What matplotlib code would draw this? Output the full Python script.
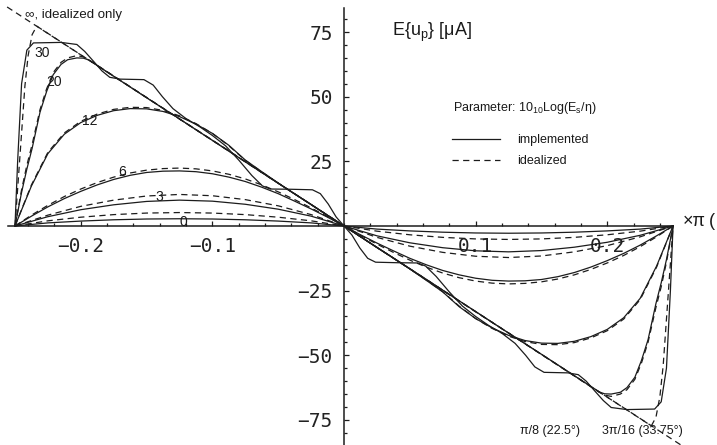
import numpy as np
import matplotlib.pyplot as plt

# Expected pulse current E{u_p} versus phase (x in units of pi).
# Only the left half (x <= 0) is listed; the curves are odd, so the
# right half is drawn as the point reflection through the origin.

x_coarse = np.array([-0.25, -0.225, -0.2, -0.175, -0.15, -0.125, -0.1, -0.075, -0.05, -0.025, 0.0])
x_fine = np.array([-0.25, -0.2375, -0.225, -0.2125, -0.2, -0.1875, -0.175, -0.1625, -0.15,
                   -0.1375, -0.125, -0.1125, -0.1, -0.0875, -0.075, -0.0625, -0.05, -0.0375,
                   -0.025, -0.0125, 0.0])

p0_impl = np.array([0, 1.2, 1.9, 2.4, 2.7, 2.8, 2.7, 2.4, 1.9, 1.2, 0])
p0_ideal = np.array([0, 2.0, 3.4, 4.4, 5.0, 5.2, 5.0, 4.4, 3.4, 2.0, 0])
p3_impl = np.array([0, 3.6, 6.3, 8.2, 9.5, 10.0, 9.6, 8.4, 6.5, 3.8, 0])
p3_ideal = np.array([0, 4.2, 7.6, 10.0, 11.6, 12.2, 11.7, 10.2, 7.8, 4.4, 0])

p6_impl = np.array([0, 3.8, 7.4, 10.6, 13.4, 15.9, 18.0, 19.6, 20.7, 21.2, 21.3,
                    21.0, 20.2, 18.9, 17.2, 15.0, 12.5, 9.6, 6.6, 3.4, 0])
p6_ideal = np.array([0, 4.2, 8.0, 11.4, 14.3, 16.8, 18.9, 20.5, 21.6, 22.2, 22.4,
                     22.1, 21.3, 20.0, 18.2, 15.9, 13.2, 10.2, 7.0, 3.6, 0])
p12_impl = np.array([0, 15.5, 28.0, 35.5, 40.0, 42.8, 44.6, 45.4, 45.3, 44.3, 42.3,
                     39.4, 35.8, 31.2, 25.5, 21.0, 16.6, 12.4, 8.3, 4.1, 0])
p12_ideal = np.array([0, 15.9, 28.5, 36.0, 40.5, 43.3, 45.1, 45.9, 45.8, 44.7, 42.6,
                      39.6, 35.8, 31.0, 25.4, 20.9, 16.6, 12.4, 8.3, 4.1, 0])

p20_x = np.array([-0.25, -0.245, -0.241, -0.237, -0.231, -0.226, -0.221, -0.215, -0.21, -0.203,
                  -0.198, -0.194, -0.175, -0.15, -0.125, -0.1, -0.075, -0.05, -0.025, 0.0])
p20_impl = np.array([0, 13, 22, 30, 44, 52, 58.5, 62.5, 64.3, 65.0,
                     64.9, 64.2, 57.9, 49.6, 41.4, 33.1, 24.8, 16.5, 8.3, 0])
p20_ideal = np.array([0, 14, 23.5, 31.5, 45, 53, 59.3, 63.3, 65.0, 65.9,
                      65.4, 64.3, 58.0, 49.7, 41.4, 33.2, 24.9, 16.6, 8.3, 0])

# 30 dB implemented: staircase around the ideal sawtooth
p30_x = np.array([-0.25, -0.248, -0.245, -0.241, -0.236, -0.215, -0.203, -0.197, -0.19, -0.184,
                  -0.178, -0.17, -0.152, -0.145, -0.138, -0.13, -0.12, -0.11, -0.1, -0.09,
                  -0.08, -0.07, -0.062, -0.056, -0.04, -0.024, -0.018, -0.012, -0.006, 0.0])
p30_impl = np.array([0, 25, 55, 68, 70.8, 71.0, 70.2, 67.5, 63.5, 60.0,
                     57.5, 56.8, 56.6, 54.5, 50.0, 45.4, 41.5, 38.5, 35.0, 31.0,
                     25.5, 19.5, 15.5, 14.3, 14.2, 14.0, 12.5, 8.5, 3.5, 0])
p30_ideal_x = np.array([-0.25, -0.2475, -0.245, -0.2425, -0.24, -0.237, -0.2335, 0.0])
p30_ideal = np.array([0, 18, 36, 54, 66, 74, 77.3, 0])

inf_x = np.array([-0.256, 0.0])
inf_ideal = np.array([84.7, 0])

impl_curves = [(x_coarse, p0_impl), (x_coarse, p3_impl), (x_fine, p6_impl),
               (x_fine, p12_impl), (p20_x, p20_impl), (p30_x, p30_impl)]
ideal_curves = [(x_coarse, p0_ideal), (x_coarse, p3_ideal), (x_fine, p6_ideal),
                (x_fine, p12_ideal), (p20_x, p20_ideal), (p30_ideal_x, p30_ideal),
                (inf_x, inf_ideal)]

ink = '#1c1c1c'
W, H = 717, 445


def odd(x, y):
    return np.concatenate([x, -x[::-1]]), np.concatenate([y, -y[::-1]])


def fx(px):
    return px / W


def fy(py):
    return 1 - py / H


fig = plt.figure(figsize=(W / 100, H / 100), dpi=100)
ax = fig.add_axes([0, 0, 1, 1])
ax.set_xlim(-0.2614, 0.2834)
ax.set_ylim(-84.7, 87.4)

for x, y in impl_curves:
    xx, yy = odd(x, y)
    ax.plot(xx, yy, color=ink, lw=0.9)
for x, y in ideal_curves:
    xx, yy = odd(x, y)
    ax.plot(xx, yy, color=ink, lw=0.9, dashes=(5, 3.5))

# axes through the origin
for s in ('top', 'right'):
    ax.spines[s].set_visible(False)
ax.spines['left'].set_position(('data', 0))
ax.spines['bottom'].set_position(('data', 0))
ax.spines['left'].set_bounds(-84.7, 84.3)
ax.spines['bottom'].set_bounds(-0.2553, 0.25)
for s in ('left', 'bottom'):
    ax.spines[s].set_linewidth(1.1)
    ax.spines[s].set_color(ink)

ax.set_xticks([-0.2, -0.1, 0.1, 0.2], ['\u22120.2', '\u22120.1', '0.1', '0.2'])
ax.set_xticks(np.arange(-0.24, 0.241, 0.02), minor=True)
ax.set_yticks([-75, -50, -25, 25, 50, 75], ['\u221275', '\u221250', '\u221225', '25', '50', '75'])
ax.set_yticks(np.arange(-80, 81, 5), minor=True)
ax.tick_params(which='both', direction='in', color=ink, width=0.9)
ax.tick_params(which='major', length=3.6, pad=8, labelsize=14, labelcolor='#222222')
ax.tick_params(which='minor', length=2.2)
for lab in ax.get_xticklabels() + ax.get_yticklabels():
    lab.set_family('DejaVu Sans Mono')

txt = dict(color='#1a1a1a', family='Liberation Sans', transform=ax.transAxes)
ax.text(fx(683), fy(221), '\u00d7\u03c0', fontsize=13, ha='left', va='center', **txt)
ax.text(fx(709), fy(221), '(', fontsize=13, ha='left', va='center', **txt)
ax.text(fx(392), fy(32), 'E{u$_\\mathregular{p}$} [\u03bcA]', fontsize=13, ha='left', va='center', **txt)

# legend
ax.text(fx(453), fy(108), 'Parameter: 10$_\\mathregular{10}$Log(E$_\\mathregular{s}$/\u03b7)',
        fontsize=9, ha='left', va='center', **txt)
ax.plot([fx(452), fx(500)], [fy(139), fy(139)], color=ink, lw=0.9, transform=ax.transAxes)
ax.plot([fx(452), fx(500)], [fy(160), fy(160)], color=ink, lw=0.9, dashes=(5, 3.5),
        transform=ax.transAxes)
ax.text(fx(517), fy(140), 'implemented', fontsize=9, ha='left', va='center', **txt)
ax.text(fx(517), fy(161), 'idealized', fontsize=9, ha='left', va='center', **txt)

# curve labels
ax.text(fx(25), fy(15), '\u221e, idealized only', fontsize=9.5, ha='left', va='center', **txt)
for label, px, py in [('30', 42, 53), ('20', 54, 82), ('12', 90, 121),
                      ('6', 122, 172), ('3', 159, 197), ('0', 183, 222)]:
    ax.text(fx(px), fy(py), label, fontsize=10, ha='center', va='center', **txt)

ax.text(fx(550), fy(431), '\u03c0/8 (22.5\u00b0)', fontsize=9, ha='center', va='center', **txt)
ax.text(fx(642), fy(431), '3\u03c0/16 (33.75\u00b0)', fontsize=9, ha='center', va='center', **txt)

fig.savefig('out.png', dpi=100)
